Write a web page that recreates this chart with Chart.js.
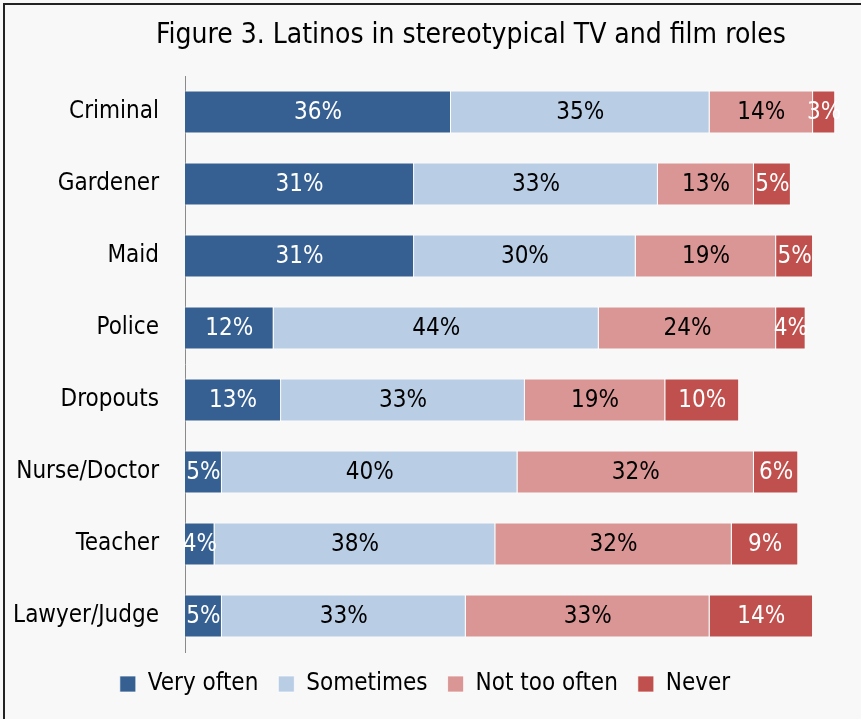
<!DOCTYPE html>
<html>
<head>
<meta charset="utf-8">
<script src="https://cdn.jsdelivr.net/npm/chart.js@4"></script>
<style>
  html, body { margin: 0; padding: 0; background: #f8f8f8; }
  #wrap { position: relative; width: 861px; height: 719px; overflow: hidden; }
  #frame { position: absolute; left: 3px; top: 3px; width: 900px; height: 800px;
           border-left: 2px solid #222; border-top: 2px solid #222; pointer-events: none; }
</style>
</head>
<body>
<div id="wrap">
  <canvas id="rolesChart" width="861" height="719"></canvas>
  <div id="frame"></div>
</div>
<script>
// roles and survey answers (%)
const roles = ['Criminal', 'Gardener', 'Maid', 'Police', 'Dropouts', 'Nurse/Doctor', 'Teacher', 'Lawyer/Judge'];
const veryOften  = [36, 31, 31, 12, 13, 5, 4, 5];
const sometimes  = [35, 33, 30, 44, 33, 40, 38, 33];
const notTooOften = [14, 13, 19, 24, 19, 32, 32, 33];
const never      = [3, 5, 5, 4, 10, 6, 9, 14];

const FONT = '"Liberation Sans Narrow", "DejaVu Sans Condensed", "Noto Sans", sans-serif';

// draws the percentage inside each bar segment + the title
const barLabels = {
    id: 'barLabels',
    afterDatasetsDraw(chart) {
        const ctx = chart.ctx;
        ctx.save();
        ctx.font = '24px ' + FONT;
        ctx.textAlign = 'center';
        ctx.textBaseline = 'middle';
        chart.data.datasets.forEach((ds, i) => {
            const meta = chart.getDatasetMeta(i);
            meta.data.forEach((bar, j) => {
                const x = (bar.x + bar.base) / 2;
                ctx.fillStyle = ds.labelColor;
                ctx.fillText(ds.data[j] + '%', x, bar.y + 1);
            });
        });
        // title
        ctx.fillStyle = '#000';
        ctx.font = '28px ' + FONT;
        ctx.fillText('Figure 3. Latinos in stereotypical TV and film roles', 471, 36);
        ctx.restore();
    }
};

const config = {
    type: 'bar',
    data: {
        labels: roles,
        datasets: [
            { label: 'Very often', data: veryOften, backgroundColor: '#376092', labelColor: '#fff' },
            { label: 'Sometimes', data: sometimes, backgroundColor: '#b9cde5', labelColor: '#000' },
            { label: 'Not too often', data: notTooOften, backgroundColor: '#d99694', labelColor: '#000' },
            { label: 'Never', data: never, backgroundColor: '#c0504d', labelColor: '#fff' }
        ].map(d => Object.assign(d, {
            borderColor: 'rgba(255,255,255,0.7)',
            borderWidth: 1,
            barPercentage: 1,
            categoryPercentage: 0.6
        }))
    },
    options: {
        indexAxis: 'y',
        responsive: false,
        animation: false,
        layout: { padding: { top: 76, right: 11, left: 0, bottom: 13 } },
        scales: {
            x: { stacked: true, display: false, min: 0, max: 90 },
            y: {
                stacked: true,
                grid: { display: false },
                border: { display: true, color: '#8a8a8a', width: 1 },
                ticks: { color: '#000', font: { family: FONT, size: 24 }, padding: 18 },
                afterFit(scale) { scale.width = 185; }
            }
        },
        plugins: {
            legend: {
                position: 'bottom',
                labels: {
                    color: '#000',
                    font: { family: FONT, size: 24 },
                    boxWidth: 16,
                    boxHeight: 16,
                    padding: 20
                }
            },
            tooltip: { enabled: false }
        }
    },
    plugins: [barLabels]
};

const rolesChart = new Chart(document.getElementById('rolesChart'), config);
</script>
</body>
</html>
